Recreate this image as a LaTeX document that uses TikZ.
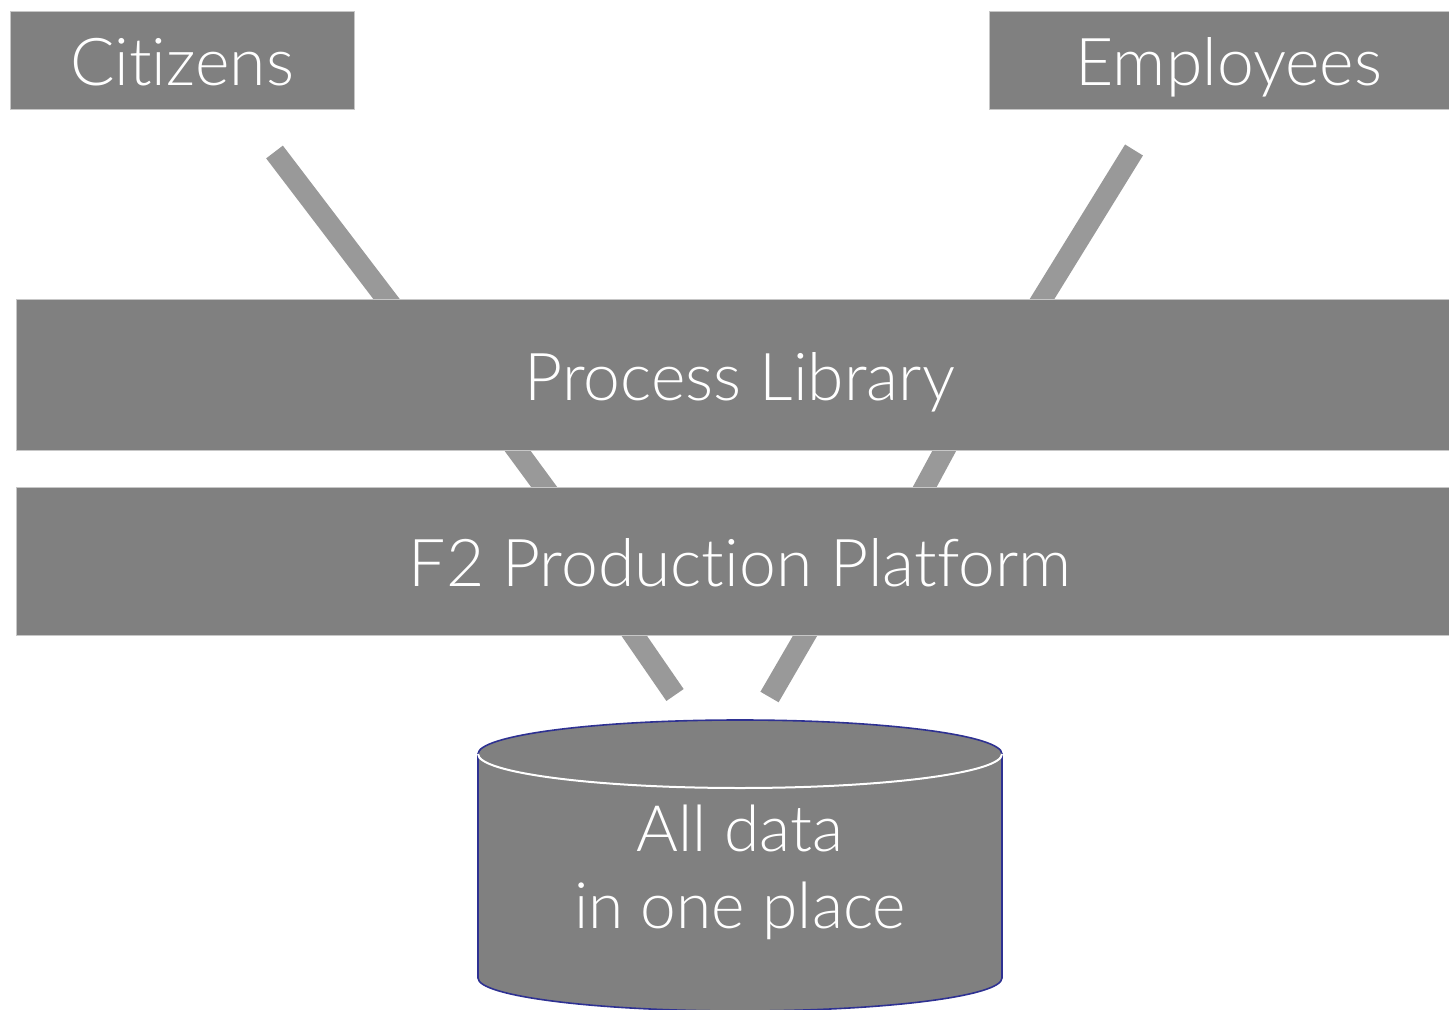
\documentclass[tikz,border=0pt]{standalone}
\usepackage{fontspec}
\setmainfont{Lato Light}[Ligatures={NoCommon,NoRequired,NoContextual}]
\definecolor{dbline}{HTML}{2E3192}
\tikzset{
  box/.style={fill=black!50,draw=black!22,line width=0.5pt,text=white,
    font=\fontsize{33}{40}\selectfont,inner sep=0pt,text height=25pt,text depth=0pt},
  link/.style={draw=black!40,line width=10.5pt},
}
\begin{document}
\begin{tikzpicture}[x=0.5pt,y=-0.5pt]
	\useasboundingbox (0,0) rectangle (1449,1010);
	% connectors first, so that the bars cut them off
	\coordinate (c1) at (274.5,152);
	\coordinate (c2) at (402.5,320);
	\coordinate (c3) at (509.6,440);
	\coordinate (c4) at (553.7,500);
	\coordinate (c5) at (623.3,620);
	\coordinate (c6) at (675,695);
	\coordinate (e1) at (1134,150);
	\coordinate (e2) at (1029.1,320);
	\coordinate (e3) at (950.1,440);
	\coordinate (e4) at (917.7,500);
	\coordinate (e5) at (814.2,620);
	\coordinate (e6) at (769.5,697);
	\draw[link] (c1)--(c2);
	\draw[link] (c3)--(c4);
	\draw[link] (c5)--(c6);
	\draw[link] (e1)--(e2);
	\draw[link] (e3)--(e4);
	\draw[link] (e5)--(e6);
	% boxes
	\node[box,minimum width=172pt,minimum height=49pt] (cit) at (182,61) {Citizens};
	\node[box,minimum width=240pt,minimum height=49pt] (emp) at (1229,61) {Employees};
	\node[box,minimum width=724pt,minimum height=75pt] (lib) at (740,375) {Process Library};
	\node[box,minimum width=724pt,minimum height=74pt] (f2) at (740,561) {F2 Production Platform};
	% the data store
	\filldraw[fill=black!50,draw=dbline,line width=0.8pt] (478,754) -- (478,978) arc (180:0:262 and 33) -- (1002,754) arc (0:-180:262 and 34) -- cycle;
	\draw[white,line width=1pt] (478,754) arc (180:0:262 and 34);
	\node[text=white,align=center,font=\fontsize{32}{38.5}\selectfont] (db) at (740,872) {All data\\in one place};
\end{tikzpicture}
\end{document}
